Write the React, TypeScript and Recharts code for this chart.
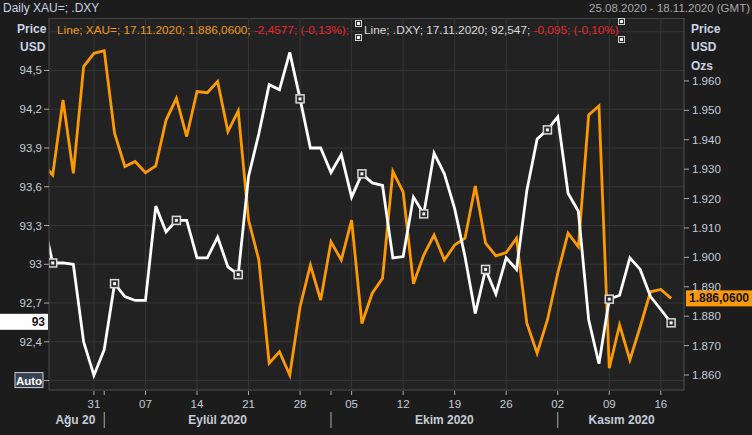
import React from "react";
import { LineChart, Line, XAxis, YAxis, ReferenceLine, ReferenceDot } from "recharts";

// daily closes, 24.08.2020 .. 17.11.2020 (trading days); first point sits left of the plot edge
const xau = [
  1932, 1928, 1953.5, 1928.6, 1964.9, 1969.4, 1970.3, 1942.2, 1930.9, 1932.6,
  1928.8, 1931.1, 1946.7, 1954.1, 1941.1, 1956.4, 1956, 1959.8, 1942.8, 1949.8,
  1912.7, 1899.1, 1864, 1867.9, 1860, 1883.2, 1897.4, 1885.5, 1905.3, 1899.1,
  1912.7, 1877.5, 1887.8, 1892.9, 1929.2, 1922.3, 1891, 1900.8, 1907.6, 1899.1,
  1904.2, 1906.5, 1924.3, 1904.8, 1900.5, 1901.6, 1906.5, 1877.6, 1867.4, 1878.7,
  1894.6, 1908.2, 1903.6, 1948.4, 1951.5, 1862.3, 1877, 1865.1, 1876.4, 1888.3,
  1889.1, 1886.06,
];
const dxy = [
  93.37, 93.01, 93.01, 93.0, 92.4, 92.14, 92.34, 92.85, 92.75, 92.72,
  92.72, 93.45, 93.25, 93.34, 93.34, 93.05, 93.05, 93.21, 92.98, 92.92,
  93.68, 94.01, 94.39, 94.35, 94.64, 94.28, 93.9, 93.9, 93.71, 93.85,
  93.52, 93.7, 93.63, 93.61, 93.05, 93.06, 93.52, 93.39, 93.86, 93.7,
  93.43, 93.06, 92.62, 92.96, 92.77, 93.05, 92.96, 93.57, 93.97, 94.04,
  94.14, 93.55, 93.41, 92.57, 92.23, 92.73, 92.76, 93.05, 92.96, 92.75,
  92.65, 92.547,
];

const weekTicks = [4, 9, 14, 19, 24, 29, 34, 39, 44, 49, 54, 59];
const weekLabels = ["31", "07", "14", "21", "28", "05", "12", "19", "26", "02", "09", "16"];
const monthBounds = [5, 27, 49];
const monthCenters = [2.2, 16, 38, 55.2];
const monthLabels = ["Ağu 20", "Eylül 2020", "Ekim 2020", "Kasım 2020"];
const markerDays = [0, 6, 12, 18, 24, 30, 36, 42, 48, 54, 60];

const leftTicks = [92.1, 92.4, 92.7, 93, 93.3, 93.6, 93.9, 94.2, 94.5];
const gridLevels = [92.1, 92.4, 92.7, 93, 93.3, 93.6, 93.9, 94.2, 94.5, 94.8];
const rightTicks = [1860, 1870, 1880, 1890, 1900, 1910, 1920, 1930, 1940, 1950, 1960];

const xDomain = [-0.36, 61.25];
const dxyDomain = [92.027, 94.906];
const xauDomain = [1854.9, 1981.4];

const data = xau.map((v, k) => ({ i: k - 1, xau: v, dxy: dxy[k] }));
const xTicks = Array.from(new Set([...weekTicks, ...monthBounds, ...monthCenters])).sort((a, b) => a - b);

const FONT = "'Liberation Sans', Arial, sans-serif";
const AXIS_TEXT = "#c4ccd8";
const GRID = "#363636";

const XTick = ({ x, y, payload }: any) => {
  const v = payload.value;
  const w = weekTicks.indexOf(v);
  const m = monthCenters.indexOf(v);
  const isBound = monthBounds.includes(v);
  return (
    <g fontFamily={FONT}>
      {(w >= 0 || isBound) && <line x1={x} x2={x} y1={y + 1} y2={y + 5} stroke="#aaa" />}
      {w >= 0 && (
        <text x={x} y={y + 14} textAnchor="middle" dominantBaseline="central" fill={AXIS_TEXT} fontSize={11.5}>
          {weekLabels[w]}
        </text>
      )}
      {isBound && <line x1={x} x2={x} y1={y + 22} y2={y + 38} stroke="#aaa" />}
      {m >= 0 && (
        <text x={x} y={y + 30} textAnchor="middle" dominantBaseline="central" fill={AXIS_TEXT} fontSize={12} fontWeight="bold">
          {monthLabels[m]}
        </text>
      )}
    </g>
  );
};

const LeftTick = ({ x, y, payload }: any) => {
  const v = payload.value;
  if (v === 92.1) {
    return (
      <g fontFamily={FONT}>
        <rect x={x - 27} y={y - 8} width={28} height={15} fill="#3a4252" stroke="#c8ccd6" />
        <text x={x - 13} y={y} textAnchor="middle" dominantBaseline="central" fill="#ffffff" fontSize={11.5} fontWeight="bold">
          Auto
        </text>
      </g>
    );
  }
  return (
    <text x={x} y={y} textAnchor="end" dominantBaseline="central" fill={AXIS_TEXT} fontSize={11.5} fontFamily={FONT}>
      {String(v).replace(".", ",")}
    </text>
  );
};

const RightTick = ({ x, y, payload }: any) => (
  <text x={x} y={y} textAnchor="start" dominantBaseline="central" fill={AXIS_TEXT} fontSize={11.5} fontFamily={FONT}>
    {"1." + String(payload.value).slice(1)}
  </text>
);

const Marker = ({ cx, cy, payload }: any) => {
  if (!markerDays.includes(payload.i)) return <g />;
  return (
    <g>
      <rect x={cx - 4} y={cy - 4} width={8} height={8} fill="#2a2a2a" stroke="#d8d8d8" strokeWidth={1.5} />
      <rect x={cx - 1.5} y={cy - 1.5} width={3} height={3} fill="#f2f2f2" />
    </g>
  );
};

const lastDxy = dxy[dxy.length - 1];
const lastXau = xau[xau.length - 1];

const LeftTag = ({ cx, cy }: any) => (
  <g fontFamily={FONT}>
    <rect x={cx - 49} y={cy - 9} width={48} height={16} fill="#ffffff" />
    <text x={cx - 4} y={cy - 1} textAnchor="end" dominantBaseline="central" fill="#111" fontSize={12} fontWeight="bold">
      {Math.round(lastDxy)}
    </text>
  </g>
);

const RightTag = ({ cx, cy }: any) => (
  <g fontFamily={FONT}>
    <rect x={cx + 2} y={cy - 8} width={66} height={16} fill="#ff9900" />
    <text x={cx + 35} y={cy} textAnchor="middle" dominantBaseline="central" fill="#111" fontSize={12} fontWeight="bold">
      1.886,0600
    </text>
  </g>
);

const Handle = ({ left, top }: { left: number; top: number }) => (
  <div
    style={{
      position: "absolute", left, top, width: 5, height: 5,
      border: "1px solid #d0d0d0", background: "#2a2a2a",
    }}
  >
    <div style={{ width: 3, height: 3, margin: 1, background: "#eee" }} />
  </div>
);

const hdr: React.CSSProperties = { position: "absolute", fontSize: 12, fontWeight: "bold", color: "#ccd4e4", lineHeight: "14px" };

export default function App() {
  return (
    <div style={{ position: "absolute", left: 0, top: 0, width: 752, height: 435, background: "#1c1c1c", overflow: "hidden", fontFamily: FONT }}>
      <div style={{ position: "absolute", left: 49, top: 18, width: 636, height: 372, background: "#222222", borderTop: "1px solid #444" }} />
      <LineChart width={752} height={435} data={data} margin={{ top: 18, right: 0, bottom: 0, left: 0 }} style={{ position: "absolute", left: 0, top: 0 }}>
        {gridLevels.map((v) => (
          <ReferenceLine key={"h" + v} yAxisId="dxy" y={v} stroke={GRID} />
        ))}
        {weekTicks.map((t) => (
          <ReferenceLine key={"v" + t} yAxisId="dxy" x={t} stroke={GRID} />
        ))}
        <XAxis
          type="number"
          dataKey="i"
          domain={xDomain}
          allowDataOverflow
          ticks={xTicks}
          interval={0}
          tick={<XTick />}
          tickLine={false}
          tickSize={0}
          tickMargin={0}
          height={45}
          axisLine={{ stroke: "#4a4a4a" }}
        />
        <YAxis
          yAxisId="dxy"
          width={49}
          domain={dxyDomain}
          allowDataOverflow
          ticks={leftTicks}
          interval={0}
          tick={<LeftTick />}
          tickSize={5}
          tickMargin={2}
          tickLine={{ stroke: "#aaa" }}
          axisLine={{ stroke: "#4a4a4a" }}
        />
        <YAxis
          yAxisId="xau"
          orientation="right"
          width={68}
          domain={xauDomain}
          allowDataOverflow
          ticks={rightTicks}
          interval={0}
          tick={<RightTick />}
          tickSize={5}
          tickMargin={3}
          tickLine={{ stroke: "#aaa" }}
          axisLine={{ stroke: "#4a4a4a" }}
        />
        <Line yAxisId="xau" dataKey="xau" stroke="#ff9900" strokeWidth={2.8} dot={false} isAnimationActive={false} />
        <Line yAxisId="dxy" dataKey="dxy" stroke="#ffffff" strokeWidth={2.8} dot={<Marker />} isAnimationActive={false} />
        <ReferenceDot yAxisId="dxy" x={xDomain[0]} y={lastDxy} r={0} shape={LeftTag} />
        <ReferenceDot yAxisId="xau" x={xDomain[1]} y={lastXau} r={0} shape={RightTag} />
      </LineChart>

      <div style={{ position: "absolute", left: 3, top: 1, fontSize: 12, color: "#c8d2e4", lineHeight: "14px" }}>Daily XAU=; .DXY</div>
      <div style={{ position: "absolute", right: 2, top: 1, fontSize: 11.5, color: "#a8a8a8", lineHeight: "14px" }}>
        25.08.2020 - 18.11.2020 (GMT)
      </div>

      <div style={{ ...hdr, left: 17, top: 22 }}>Price</div>
      <div style={{ ...hdr, left: 20, top: 40 }}>USD</div>
      <div style={{ ...hdr, left: 691, top: 22 }}>Price</div>
      <div style={{ ...hdr, left: 691, top: 40 }}>USD</div>
      <div style={{ ...hdr, left: 691, top: 59 }}>Ozs</div>

      <div style={{ position: "absolute", left: 57, top: 23, fontSize: 11.8, lineHeight: "14px", whiteSpace: "nowrap" }}>
        <span style={{ color: "#ec9a1c" }}>Line; XAU=; 17.11.2020; 1.886,0600; </span>
        <span style={{ color: "#e8262b" }}>-2,4577; (-0,13%);</span>
      </div>
      <div style={{ position: "absolute", left: 364, top: 23, fontSize: 11.8, lineHeight: "14px", whiteSpace: "nowrap" }}>
        <span style={{ color: "#dadada" }}>Line; .DXY; 17.11.2020; 92,547; </span>
        <span style={{ color: "#e8262b" }}>-0,095; (-0,10%)</span>
      </div>
      <Handle left={355} top={20} />
      <Handle left={355} top={34} />
      <Handle left={618} top={18} />
      <Handle left={618} top={36} />
    </div>
  );
}
